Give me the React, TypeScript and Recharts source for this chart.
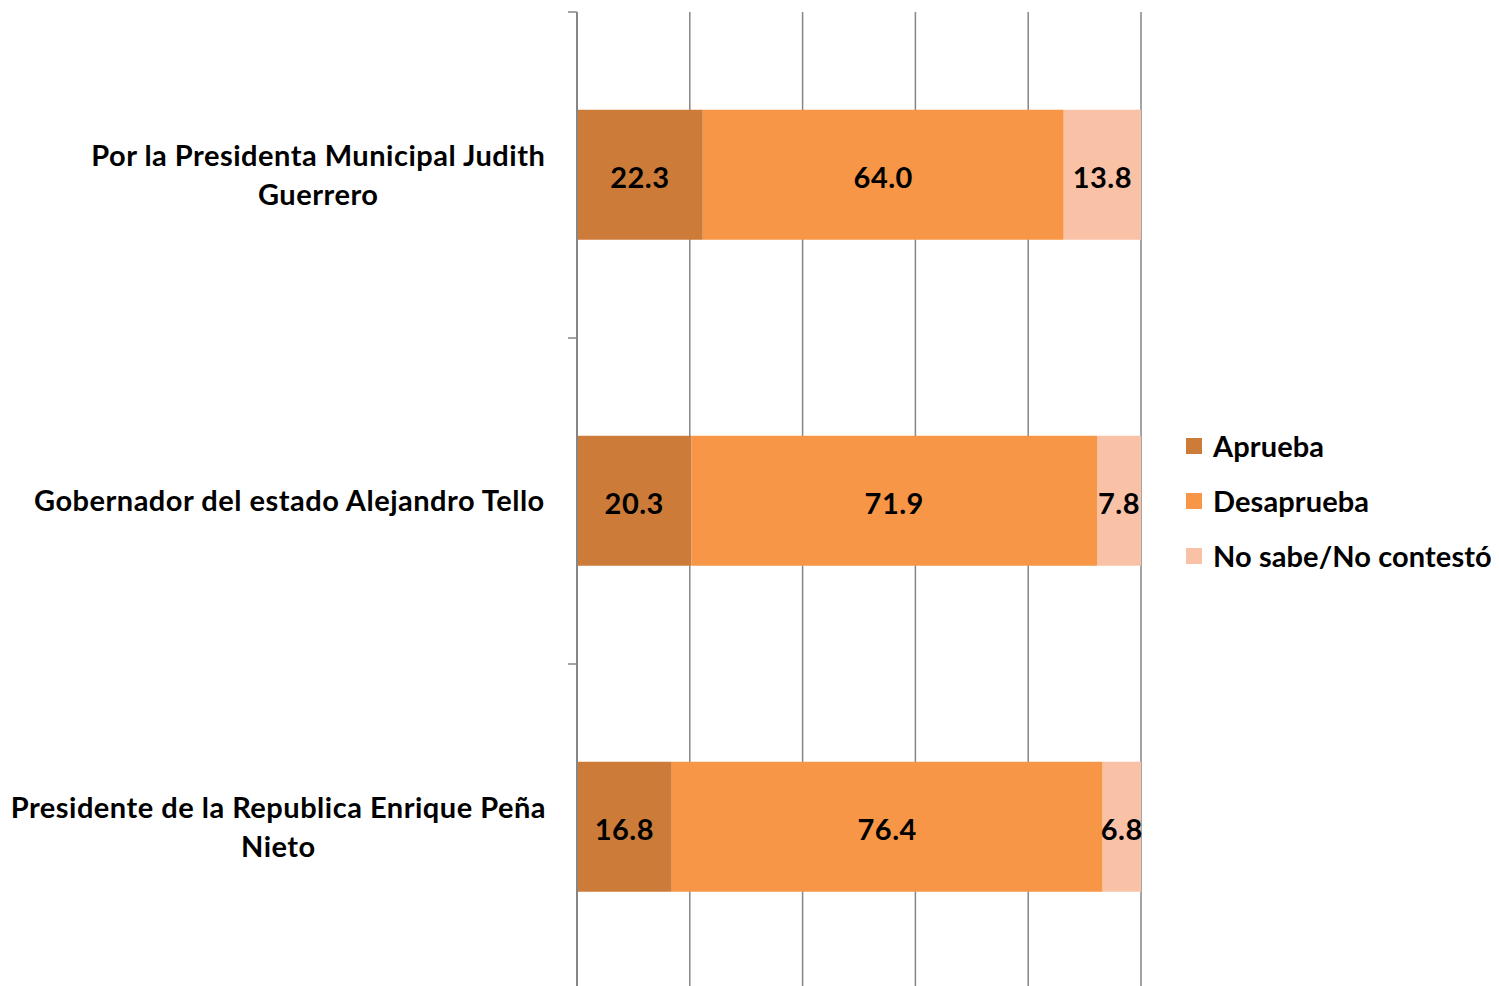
import React from "react";
import { BarChart, Bar, XAxis, YAxis, CartesianGrid, Legend, LabelList } from "recharts";

const categories = [
  "Por la Presidenta Municipal Judith Guerrero",
  "Gobernador del estado Alejandro Tello",
  "Presidente de la Republica Enrique Peña Nieto",
];
const aprueba = [22.3, 20.3, 16.8];
const desaprueba = [64.0, 71.9, 76.4];
const noSabe = [13.8, 7.8, 6.8];
const seriesNames = ["Aprueba", "Desaprueba", "No sabe/No contestó"];
const xTicks = [0, 20, 40, 60, 80, 100];

const COLORS = ["#CC7B38", "#F79646", "#F9C2A7"];
const FONT = "Lato, 'Open Sans', sans-serif";
const FONT_SIZE = 29;
const LS = 0.5;
const GRID = "#868686";

const data = categories.map((c, i) => ({
  name: c,
  aprueba: aprueba[i],
  desaprueba: desaprueba[i],
  noSabe: noSabe[i],
}));

let ctx: CanvasRenderingContext2D | null = null;
function measure(t: string): number {
  if (!ctx) {
    const c = document.createElement("canvas");
    ctx = c.getContext("2d");
  }
  if (!ctx) return t.length * 14;
  ctx.font = `bold ${FONT_SIZE}px Lato`;
  return ctx.measureText(t).width + t.length * LS;
}

function wrap(text: string, maxW: number): string[] {
  const words = text.split(" ");
  const lines: string[] = [];
  let cur = "";
  for (const w of words) {
    const test = cur ? cur + " " + w : w;
    if (cur && measure(test) > maxW) {
      lines.push(cur);
      cur = w;
    } else {
      cur = test;
    }
  }
  if (cur) lines.push(cur);
  return lines;
}

function CategoryTick(props: any) {
  const { x, y, payload, index, visibleTicksCount } = props;
  const off = payload && payload.offset ? payload.offset : 0;
  const lines = wrap(String(payload.value), 545);
  const widest = Math.max(...lines.map(measure));
  const cx = x - 31 - widest / 2;
  const lh = 39;
  const y0 = y - 1.5 - ((lines.length - 1) * lh) / 2;
  return (
    <g>
      <line x1={x - 9} x2={x} y1={y - off} y2={y - off} stroke={GRID} strokeWidth={1.5} />
      {index === visibleTicksCount - 1 && (
        <line x1={x - 9} x2={x} y1={y + off} y2={y + off} stroke={GRID} strokeWidth={1.5} />
      )}
      {lines.map((l, i) => (
        <text
          key={i}
          x={cx}
          y={y0 + i * lh}
          textAnchor="middle"
          dominantBaseline="central"
          fontFamily={FONT}
          fontWeight="bold"
          fontSize={FONT_SIZE}
          letterSpacing={LS}
          fill="#000"
        >
          {l}
        </text>
      ))}
    </g>
  );
}

function LegendContent() {
  return (
    <div style={{ fontFamily: FONT, fontWeight: "bold", fontSize: FONT_SIZE, letterSpacing: 0.1, color: "#000" }}>
      {seriesNames.map((n, i) => (
        <div key={n} style={{ height: 55, display: "flex", alignItems: "center", whiteSpace: "nowrap" }}>
          <span
            style={{
              display: "inline-block",
              width: 16,
              height: 16,
              background: COLORS[i],
              marginRight: 11,
            }}
          />
          <span>{n}</span>
        </div>
      ))}
    </div>
  );
}

const fmt = (v: any) => Number(v).toFixed(1);
const labelStyle = { fontFamily: FONT, fontWeight: "bold", fontSize: FONT_SIZE, letterSpacing: LS, fill: "#000" } as any;

export default function App() {
  return (
    <BarChart
      width={1491}
      height={1000}
      data={data}
      layout="vertical"
      margin={{ top: 4, right: 358, bottom: 18, left: 0 }}
      barCategoryGap="30%"
    >
      <CartesianGrid horizontal={false} vertical stroke={GRID} strokeWidth={1.5} />
      <XAxis type="number" domain={[0, 100]} ticks={xTicks} allowDataOverflow hide />
      <YAxis
        type="category"
        dataKey="name"
        width={569}
        axisLine={{ stroke: GRID, strokeWidth: 2 }}
        tickLine={false}
        tickSize={0}
        tickMargin={0}
        tick={<CategoryTick />}
        interval={0}
      />
      <Legend
        layout="vertical"
        verticalAlign="middle"
        align="center"
        content={<LegendContent />}
        wrapperStyle={{ position: "absolute", left: 1178, top: 410, width: 312 }}
      />
      <Bar dataKey="aprueba" name={seriesNames[0]} stackId="a" fill={COLORS[0]} isAnimationActive={false}>
        <LabelList dataKey="aprueba" position="center" formatter={fmt} style={labelStyle} dy={3} />
      </Bar>
      <Bar dataKey="desaprueba" name={seriesNames[1]} stackId="a" fill={COLORS[1]} isAnimationActive={false}>
        <LabelList dataKey="desaprueba" position="center" formatter={fmt} style={labelStyle} dy={3} />
      </Bar>
      <Bar dataKey="noSabe" name={seriesNames[2]} stackId="a" fill={COLORS[2]} isAnimationActive={false}>
        <LabelList dataKey="noSabe" position="center" formatter={fmt} style={labelStyle} dy={3} />
      </Bar>
    </BarChart>
  );
}
